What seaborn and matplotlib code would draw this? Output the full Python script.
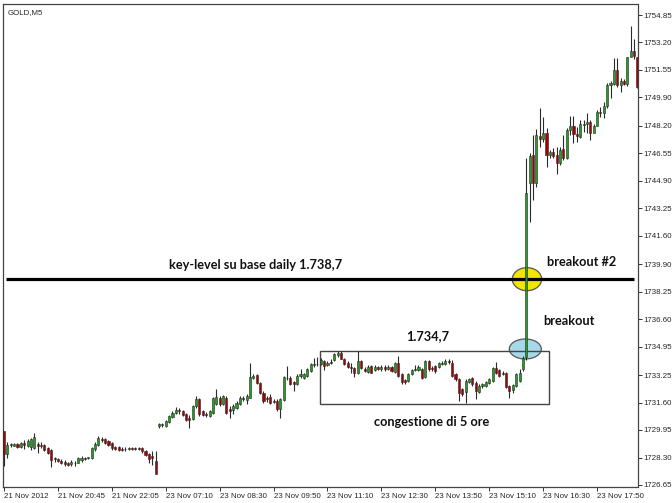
import numpy as np
import pandas as pd
import matplotlib
matplotlib.use("Agg")
import matplotlib.pyplot as plt
import seaborn as sns
from matplotlib.patches import Ellipse, Rectangle

# GOLD M5, 21-23 Nov 2012
x_tick_bars = [0, 16, 32, 48, 64, 80, 96, 112, 128, 144, 160, 176]
x_tick_labels = ["21 Nov 2012", "21 Nov 20:45", "21 Nov 22:05", "23 Nov 07:10",
                 "23 Nov 08:30", "23 Nov 09:50", "23 Nov 11:10", "23 Nov 12:30",
                 "23 Nov 13:50", "23 Nov 15:10", "23 Nov 16:30", "23 Nov 17:50"]
y_ticks = [1754.85, 1753.20, 1751.55, 1749.90, 1748.20, 1746.55, 1744.90, 1743.25,
           1741.60, 1739.90, 1738.25, 1736.60, 1734.95, 1733.25, 1731.60, 1729.95,
           1728.30, 1726.65]

opens = [
    1729.86, 1728.50, 1729.06, 1729.02, 1729.10, 1728.94, 1729.18, 1728.98, 1728.90, 1728.86,
    1729.10, 1729.00, 1729.06, 1728.86, 1728.74, 1728.26, 1728.22, 1728.10, 1728.06, 1727.98,
    1727.90, 1727.98, 1727.98, 1728.14, 1728.26, 1728.24, 1728.24, 1728.80, 1729.06, 1729.42,
    1729.38, 1729.26, 1729.14, 1728.90, 1728.90, 1728.82, 1728.80, 1728.82, 1728.86, 1728.86,
    1728.84, 1728.86, 1728.66, 1728.50, 1728.40, 1728.10,
    1730.17, 1730.25, 1730.19, 1730.45, 1730.73, 1730.99, 1731.13, 1731.09, 1730.93, 1730.65,
    1730.59, 1731.39, 1731.79, 1731.09, 1730.93, 1730.79, 1730.99, 1731.49, 1731.89, 1731.53,
    1731.89, 1731.19, 1731.13, 1731.29, 1731.53, 1731.89, 1731.73, 1731.89, 1733.09, 1733.23,
    1732.79, 1732.19, 1731.89, 1731.93, 1731.69, 1731.69, 1731.19, 1731.73, 1733.09, 1733.09,
    1732.81, 1732.73, 1733.19, 1733.09, 1733.19, 1733.49, 1733.85, 1733.89, 1733.89, 1734.09,
    1733.85, 1734.05,
    1734.15, 1734.43, 1734.55, 1734.23, 1733.99, 1733.75, 1733.69, 1733.35, 1734.09, 1733.63,
    1733.43, 1733.79, 1733.55, 1733.71, 1733.63, 1733.75, 1733.63, 1733.71, 1733.43, 1733.95,
    1733.29, 1732.95, 1732.89, 1733.29, 1733.55, 1733.55, 1733.59, 1733.15, 1734.09, 1733.69,
    1733.79, 1733.75, 1733.91, 1733.89, 1734.09, 1733.99, 1733.29, 1733.03, 1732.39, 1732.23,
    1732.83, 1733.09, 1732.79, 1732.23, 1732.59, 1732.59, 1732.75, 1732.89, 1733.69, 1733.55,
    1733.39, 1733.35, 1732.59, 1732.35, 1732.59, 1732.89, 1733.59,
    1734.35, 1744.75, 1746.45, 1744.75, 1747.60, 1747.40, 1747.75, 1746.45, 1746.60, 1746.45,
    1745.95, 1746.79, 1746.25, 1747.95, 1748.19, 1747.71, 1747.55, 1748.25, 1748.31, 1748.45,
    1747.79, 1748.19, 1749.05, 1748.99, 1749.39, 1750.65, 1750.71, 1751.55, 1750.65, 1750.91,
    1750.71, 1752.31, 1752.71, 1752.31,
]
closes = [
    1728.50, 1729.06, 1729.10, 1729.10, 1728.94, 1729.18, 1729.06, 1729.30, 1729.40, 1729.54,
    1728.98, 1729.06, 1728.74, 1728.60, 1728.14, 1728.18, 1728.10, 1727.98, 1727.90, 1727.86,
    1728.06, 1727.94, 1728.26, 1728.30, 1728.22, 1728.30, 1728.86, 1729.10, 1729.46, 1729.34,
    1729.18, 1729.06, 1728.86, 1728.82, 1728.74, 1728.78, 1728.82, 1728.86, 1728.84, 1728.82,
    1728.80, 1728.66, 1728.46, 1728.20, 1728.30, 1727.34,
    1730.33, 1730.29, 1730.49, 1730.79, 1730.99, 1731.13, 1731.09, 1730.83, 1730.53, 1730.57,
    1731.39, 1731.79, 1730.89, 1730.85, 1730.85, 1731.09, 1731.89, 1731.93, 1731.49, 1731.99,
    1730.99, 1731.09, 1731.39, 1731.59, 1731.89, 1731.79, 1731.99, 1733.13, 1733.19, 1732.79,
    1732.19, 1731.69, 1731.79, 1731.59, 1731.65, 1731.19, 1731.79, 1733.13, 1733.05, 1732.73,
    1732.73, 1733.19, 1733.29, 1733.29, 1733.59, 1733.89, 1733.89, 1733.93, 1734.13, 1733.79,
    1733.99, 1733.99,
    1734.49, 1734.55, 1734.23, 1733.89, 1733.75, 1733.67, 1733.35, 1734.09, 1733.69, 1733.51,
    1733.75, 1733.39, 1733.75, 1733.63, 1733.75, 1733.59, 1733.71, 1733.49, 1733.95, 1733.19,
    1732.83, 1732.83, 1733.29, 1733.55, 1733.63, 1733.75, 1733.09, 1734.09, 1733.59, 1733.59,
    1733.49, 1733.95, 1733.99, 1734.09, 1734.03, 1733.19, 1732.99, 1732.19, 1732.09, 1732.89,
    1732.99, 1732.69, 1732.29, 1732.59, 1732.69, 1732.83, 1732.99, 1733.69, 1733.39, 1733.19,
    1733.31, 1732.55, 1732.29, 1732.63, 1733.29, 1733.39, 1734.29,
    1744.15, 1746.39, 1744.75, 1747.65, 1747.40, 1747.75, 1746.45, 1746.60, 1746.40, 1745.95,
    1746.75, 1746.25, 1747.95, 1748.19, 1747.71, 1747.59, 1748.31, 1748.31, 1748.45, 1747.79,
    1748.19, 1749.05, 1748.99, 1749.39, 1750.65, 1750.75, 1751.55, 1750.65, 1750.91, 1750.71,
    1752.31, 1752.71, 1752.39, 1750.55,
]
highs = [
    1729.90, 1729.20, 1729.16, 1729.18, 1729.18, 1729.26, 1729.34, 1729.40, 1729.50, 1729.80,
    1729.20, 1729.20, 1729.10, 1728.90, 1728.80, 1728.34, 1728.30, 1728.18, 1728.14, 1728.06,
    1728.14, 1728.10, 1728.34, 1728.38, 1728.34, 1728.36, 1728.90, 1729.20, 1729.60, 1729.54,
    1729.46, 1729.34, 1729.20, 1728.98, 1729.00, 1728.90, 1728.90, 1728.94, 1728.94, 1728.94,
    1728.94, 1728.90, 1728.74, 1728.58, 1728.66, 1728.70,
    1730.37, 1730.39, 1730.53, 1730.85, 1731.09, 1731.33, 1731.29, 1731.17, 1730.99, 1730.85,
    1731.45, 1731.99, 1731.89, 1731.17, 1731.05, 1731.17, 1731.93, 1732.39, 1731.99, 1732.05,
    1731.97, 1731.39, 1731.49, 1731.69, 1731.99, 1731.99, 1732.09, 1733.99, 1733.33, 1733.29,
    1732.85, 1732.29, 1731.99, 1732.09, 1731.79, 1731.79, 1731.89, 1733.19, 1733.79, 1733.17,
    1732.89, 1733.29, 1733.59, 1733.37, 1733.69, 1733.99, 1734.29, 1734.33, 1734.29, 1734.17,
    1734.09, 1734.19,
    1734.59, 1734.69, 1734.69, 1734.29, 1734.07, 1733.95, 1733.75, 1734.69, 1734.15, 1733.71,
    1733.83, 1733.87, 1733.83, 1733.79, 1733.83, 1733.83, 1733.83, 1733.79, 1734.03, 1734.39,
    1733.35, 1733.03, 1733.39, 1733.63, 1733.83, 1733.83, 1733.67, 1734.15, 1734.15, 1733.79,
    1733.87, 1734.03, 1734.07, 1734.19, 1734.23, 1734.15, 1733.39, 1733.09, 1732.49, 1732.99,
    1733.09, 1733.15, 1732.89, 1732.69, 1732.79, 1732.89, 1733.09, 1733.75, 1734.03, 1733.63,
    1733.49, 1733.43, 1732.67, 1732.71, 1733.39, 1733.59, 1734.39,
    1746.25, 1746.55, 1747.65, 1748.00, 1749.25, 1748.75, 1748.10, 1746.75, 1746.85, 1746.95,
    1746.91, 1747.65, 1748.05, 1748.79, 1748.79, 1748.15, 1748.55, 1748.55, 1748.95, 1748.55,
    1748.31, 1749.15, 1749.31, 1749.65, 1750.75, 1750.91, 1752.25, 1752.25, 1751.05, 1750.99,
    1752.35, 1754.19, 1753.39, 1752.35,
]
lows = [
    1727.80, 1728.30, 1728.94, 1728.96, 1728.86, 1728.86, 1728.80, 1728.90, 1728.74, 1728.80,
    1728.60, 1728.86, 1728.70, 1728.54, 1727.70, 1728.06, 1728.00, 1727.90, 1727.82, 1727.78,
    1727.82, 1727.82, 1727.94, 1728.06, 1728.14, 1728.18, 1728.18, 1728.70, 1728.98, 1729.26,
    1729.10, 1728.98, 1728.78, 1728.74, 1728.70, 1728.70, 1728.70, 1728.74, 1728.78, 1728.74,
    1728.74, 1728.58, 1728.38, 1727.94, 1727.86, 1727.30,
    1730.09, 1730.13, 1730.13, 1730.39, 1730.69, 1730.93, 1730.89, 1730.77, 1730.49, 1730.09,
    1730.53, 1731.29, 1730.79, 1730.77, 1730.73, 1730.73, 1730.93, 1731.45, 1731.39, 1731.45,
    1730.89, 1730.65, 1730.93, 1731.21, 1731.45, 1731.69, 1731.53, 1731.85, 1732.99, 1732.73,
    1732.13, 1731.59, 1731.65, 1731.53, 1731.57, 1731.09, 1730.69, 1731.69, 1732.93, 1732.65,
    1732.29, 1732.65, 1733.09, 1733.01, 1733.13, 1733.41, 1733.73, 1733.81, 1733.85, 1733.57,
    1733.77, 1733.93,
    1734.09, 1734.35, 1734.19, 1733.83, 1733.69, 1733.39, 1733.15, 1733.29, 1733.63, 1733.43,
    1733.35, 1733.35, 1733.49, 1733.55, 1733.51, 1733.51, 1733.55, 1733.43, 1733.39, 1733.15,
    1732.69, 1732.69, 1732.83, 1733.23, 1733.47, 1733.49, 1733.03, 1733.09, 1733.49, 1733.49,
    1733.39, 1733.69, 1733.83, 1733.83, 1733.89, 1733.15, 1732.89, 1731.69, 1731.99, 1731.59,
    1732.75, 1732.59, 1731.79, 1732.15, 1732.49, 1732.51, 1732.69, 1732.83, 1733.31, 1733.11,
    1733.23, 1732.49, 1731.89, 1732.19, 1732.55, 1732.83, 1733.49,
    1734.15, 1742.45, 1743.75, 1744.55, 1746.95, 1747.25, 1745.75, 1746.25, 1746.25, 1745.31,
    1745.85, 1746.15, 1746.19, 1747.65, 1747.19, 1747.25, 1747.45, 1747.85, 1747.75, 1747.35,
    1748.05, 1748.75, 1748.75, 1748.65, 1749.25, 1749.85, 1750.65, 1750.55, 1750.25, 1750.65,
    1750.59, 1752.31, 1752.19, 1750.45,
]

key_level = 1739.0
box_bars = (93.9, 161.8)
box_prices = (1731.52, 1734.69)

sns.set_style("white")
plt.rcParams["font.family"] = ["Liberation Sans", "DejaVu Sans"]

df = pd.DataFrame({"open": opens, "high": highs, "low": lows, "close": closes})
df["bar"] = np.arange(len(df))
df["bull"] = df["close"] >= df["open"]

fig = plt.figure(figsize=(6.72, 5.03), dpi=100)
ax = fig.add_axes([3 / 672, 16 / 503, 634.5 / 672, 483 / 503])

# candles
ax.vlines(df["bar"], df["low"], df["high"], color="#2a2a2a", lw=0.8, zorder=4)
body = (df["close"] - df["open"]).abs().clip(lower=0.03)
ax.bar(df["bar"], body, bottom=df[["open", "close"]].min(axis=1), width=0.62,
       color=np.where(df["bull"], "#1f9e1f", "#a80000"),
       edgecolor="#2a2a2a", linewidth=0.4, zorder=5)

# annotations
ax.hlines(key_level, 0.5, 187, color="black", lw=2.3, zorder=3)
ax.add_patch(Rectangle((box_bars[0], box_prices[0]), box_bars[1] - box_bars[0],
                       box_prices[1] - box_prices[0], fill=False,
                       edgecolor="#444444", lw=1.0, zorder=3))
ax.add_patch(Ellipse((154.7, 1734.81), 9.5, 1.2, facecolor="#a6d8ea",
                     edgecolor="#555555", lw=0.9, zorder=2))
ax.add_patch(Ellipse((155.2, key_level), 8.7, 1.38, facecolor="#f2e600",
                     edgecolor="#555555", lw=0.9, zorder=2))

bold = dict(fontsize=9.2, fontweight="bold", family=["Lato", "DejaVu Sans"],
            ha="center", va="center", color="#111111")
ax.text(74.7, 1739.85, "key-level su base daily 1.738,7", **bold)
ax.text(125.6, 1735.6, "1.734,7", **bold)
ax.text(126.8, 1730.43, "congestione di 5 ore", **bold)
ax.text(171.3, 1740.03, "breakout #2", **bold)
ax.text(167.7, 1736.5, "breakout", **bold)
ax.text(0.008, 0.99, "GOLD,M5", transform=ax.transAxes, fontsize=5.7,
        ha="left", va="top")

ax.set_xlim(-0.3, 188.0)
ax.set_ylim(1726.53, 1755.51)
ax.set_xticks(x_tick_bars)
ax.set_xticklabels(x_tick_labels, ha="left")
ax.yaxis.tick_right()
ax.set_yticks(y_ticks)
ax.set_yticklabels([f"{v:.2f}" for v in y_ticks])
ax.tick_params(axis="x", bottom=True, direction="out", length=3, width=0.7,
               pad=1.5, labelsize=5.7, color="#333333")
ax.tick_params(axis="y", right=True, left=False, labelright=True, labelleft=False,
               direction="out", length=3, width=0.7, pad=1.5, labelsize=5.7,
               color="#333333")
for s in ax.spines.values():
    s.set_color("#444444")
    s.set_linewidth(0.9)

fig.savefig("out.png", dpi=100)
